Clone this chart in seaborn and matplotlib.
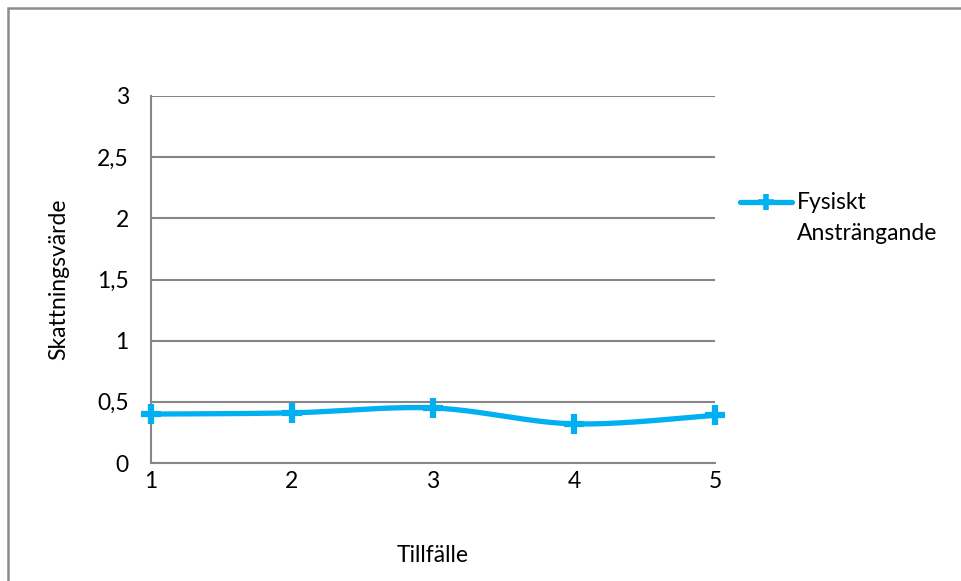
import numpy as np
import pandas as pd
import seaborn as sns
import matplotlib
matplotlib.use("Agg")
import matplotlib.pyplot as plt
from matplotlib.lines import Line2D
from matplotlib.patches import Rectangle
from matplotlib.ticker import FuncFormatter

# Data
tillfalle = [1, 2, 3, 4, 5]
fysiskt_anstrangande = [0.40, 0.41, 0.45, 0.32, 0.39]
series_name = "Fysiskt\nAnsträngande"
y_ticks = [0, 0.5, 1, 1.5, 2, 2.5, 3]

LINE_COLOR = "#00B0F0"
GRID_COLOR = "#868686"
FS = 16.5

sns.set_theme(style="white")
plt.rcParams["font.family"] = ["Lato", "DejaVu Sans"]

W, H = 961, 581
fig = plt.figure(figsize=(W / 100, H / 100), dpi=100)
ax = fig.add_axes([151 / W, 1 - 463 / H, (715 - 151) / W, (463 - 96) / H])

df = pd.DataFrame({"Tillfälle": tillfalle, "Skattningsvärde": fysiskt_anstrangande})


def smooth_curve(x, y, n=40):
    """Bezier smoothing through every point (Catmull-Rom style control points)."""
    x = np.asarray(x, float)
    y = np.asarray(y, float)
    px = np.concatenate([[x[0]], x, [x[-1]]])
    py = np.concatenate([[y[0]], y, [y[-1]]])
    xs, ys = [], []
    t = np.linspace(0, 1, n)
    for i in range(1, len(px) - 2):
        p0 = np.array([px[i], py[i]])
        p3 = np.array([px[i + 1], py[i + 1]])
        p1 = p0 + (np.array([px[i + 1], py[i + 1]]) - np.array([px[i - 1], py[i - 1]])) / 6
        p2 = p3 - (np.array([px[i + 2], py[i + 2]]) - np.array([px[i], py[i]])) / 6
        b = ((1 - t) ** 3)[:, None] * p0 + (3 * (1 - t) ** 2 * t)[:, None] * p1 \
            + (3 * (1 - t) * t ** 2)[:, None] * p2 + (t ** 3)[:, None] * p3
        xs.append(b[:, 0])
        ys.append(b[:, 1])
    return np.concatenate(xs), np.concatenate(ys)


sx, sy = smooth_curve(df["Tillfälle"], df["Skattningsvärde"])
ax.plot(sx, sy, color=LINE_COLOR, lw=3.8, solid_capstyle="round", clip_on=False, zorder=3)
sns.scatterplot(data=df, x="Tillfälle", y="Skattningsvärde", ax=ax, marker="+",
                s=200, linewidth=4.5, color=LINE_COLOR, clip_on=False, zorder=4, legend=False)

ax.set_xlim(1, 5)
ax.set_ylim(0, 3)
ax.set_xticks(tillfalle)
ax.set_yticks(y_ticks)
ax.yaxis.set_major_formatter(FuncFormatter(lambda v, _: f"{v:g}".replace(".", ",")))
ax.grid(axis="y", color=GRID_COLOR, lw=1.5)
ax.set_axisbelow(True)
for side in ["top", "right"]:
    ax.spines[side].set_visible(False)
for side in ["left", "bottom"]:
    ax.spines[side].set_color(GRID_COLOR)
    ax.spines[side].set_linewidth(1.5)
ax.tick_params(axis="both", length=0, labelsize=FS, labelcolor="black")
ax.tick_params(axis="x", pad=6)
ax.tick_params(axis="y", pad=16)

ax.set_xlabel("Tillfälle", fontsize=FS, color="black", labelpad=38)
ax.set_ylabel("Skattningsvärde", fontsize=FS, color="black", labelpad=20)

# Legend entry, handle aligned with the first text line
fig.add_artist(Line2D([740 / W, 792 / W], [1 - 202 / H, 1 - 202 / H], color=LINE_COLOR,
                      lw=3.8, solid_capstyle="round"))
fig.add_artist(Line2D([766 / W], [1 - 202 / H], color=LINE_COLOR, marker="+",
                      markersize=11, markeredgewidth=4.0))
fig.text(797 / W, 1 - 192 / H, series_name, fontsize=FS, va="top", ha="left",
         color="black", linespacing=1.6)

# Chart area border
fig.add_artist(Rectangle((7.5 / W, -0.1), 1.2, 1.1 - 7.5 / H, transform=fig.transFigure,
                         fill=False, edgecolor="#8C8C8C", lw=1.8))

fig.savefig("out.png", dpi=100, facecolor="white")
